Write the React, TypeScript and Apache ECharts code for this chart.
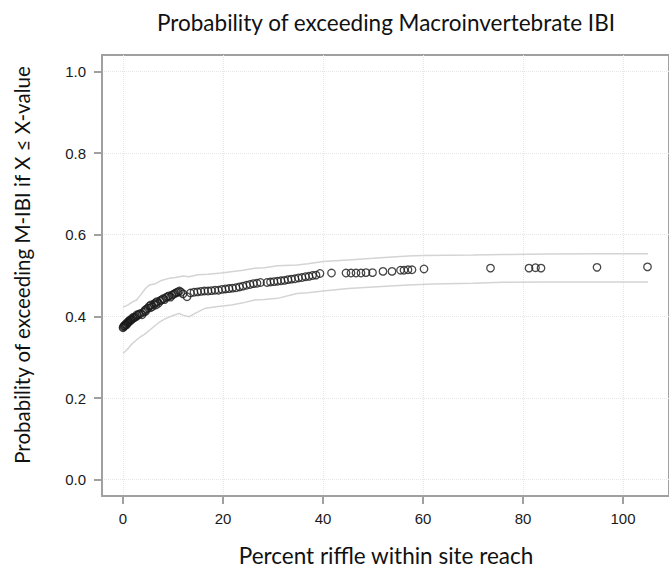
import React, { useEffect, useRef } from "react";
import * as echarts from "echarts";

const titleText = "Probability of exceeding Macroinvertebrate IBI";
const xAxisTitle = "Percent riffle within site reach";
const yAxisTitle = "Probability of exceeding M-IBI if X \u2264 X-value";

const xTicks = [0, 20, 40, 60, 80, 100];
const yTicks = [0, 0.2, 0.4, 0.6, 0.8, 1.0];

// observed points: percent riffle (x) and probability (y)
const pointX = [
  0.0, 0.1, 0.2, 0.3, 0.4, 0.5, 0.6, 0.7, 0.8, 0.9, 1.0, 1.1, 1.2, 1.4, 1.5, 1.6, 1.8, 2.0, 2.1, 2.3, 2.6, 2.8, 2.9, 3.2, 3.5, 3.8,
  4.1, 4.4, 4.5, 4.7, 5.0, 5.3, 5.5, 5.6, 5.9, 6.2, 6.5, 6.6, 6.8, 7.1, 7.4, 7.7, 8.0, 8.3, 8.6, 8.9, 9.2, 9.5, 9.8,
  10.1, 10.4, 10.7, 11.0, 11.3, 11.6, 12.0, 12.8, 13.5, 14.2, 14.9, 15.6, 16.3, 17.0, 17.7, 18.4, 19.1, 19.8,
  20.5, 21.2, 21.9, 22.6, 23.3, 24.0, 24.7, 25.4, 26.1, 26.8, 27.5, 28.8, 29.5, 30.2, 30.9, 31.6, 32.3, 33.0,
  33.7, 34.4, 35.1, 35.8, 36.5, 37.2, 37.9, 38.6, 39.4, 41.7, 44.6, 45.6, 46.6, 47.6, 48.6, 49.9,
  52.0, 53.8, 55.5, 56.2, 57.0, 57.8, 60.2, 73.5, 81.2, 82.5, 83.6, 94.8, 104.9,
];
const pointY = [
  0.372, 0.374, 0.376, 0.377, 0.378, 0.380, 0.381, 0.379, 0.383, 0.384, 0.385, 0.388, 0.387, 0.389, 0.392, 0.391, 0.393, 0.395, 0.398, 0.397, 0.399, 0.404, 0.402, 0.405, 0.407, 0.404,
  0.410, 0.415, 0.412, 0.418, 0.420, 0.425, 0.421, 0.428, 0.424, 0.430, 0.433, 0.428, 0.436, 0.432, 0.438, 0.440, 0.443, 0.441, 0.446, 0.448, 0.450, 0.447, 0.452,
  0.454, 0.456, 0.458, 0.460, 0.462, 0.459, 0.455, 0.448, 0.457, 0.459, 0.460, 0.461, 0.462, 0.462, 0.463, 0.464, 0.464, 0.466,
  0.467, 0.468, 0.469, 0.470, 0.472, 0.474, 0.476, 0.478, 0.480, 0.481, 0.483, 0.483, 0.484, 0.485, 0.486, 0.487, 0.488, 0.490,
  0.491, 0.492, 0.494, 0.495, 0.497, 0.498, 0.500, 0.501, 0.505, 0.506, 0.506, 0.506, 0.506, 0.506, 0.507, 0.507,
  0.510, 0.510, 0.513, 0.513, 0.514, 0.514, 0.516, 0.518, 0.518, 0.519, 0.518, 0.520, 0.521,
];

// upper and lower confidence bands
const upperX = [0, 1, 2, 2.7, 3.5, 4.5, 5.3, 6.5, 7.5, 9.2, 10.5, 12, 13.2, 15, 17, 19.7, 22, 24, 26.3, 28.3, 30.9, 34.8, 37, 40, 45, 50, 57, 60, 70, 76, 85, 95, 105];
const upperY = [0.422, 0.428, 0.436, 0.440, 0.452, 0.468, 0.477, 0.480, 0.487, 0.493, 0.495, 0.499, 0.497, 0.502, 0.503, 0.506, 0.510, 0.513, 0.518, 0.519, 0.524, 0.526, 0.529, 0.534, 0.538, 0.542, 0.548, 0.549, 0.550, 0.5515, 0.5525, 0.553, 0.553];
const lowerX = [0, 0.8, 1.6, 2.7, 3.5, 4.3, 5.3, 6.2, 7.2, 8.6, 10, 11.2, 12, 13.2, 14.5, 16.5, 19, 21.7, 24, 26.3, 28.3, 30.9, 34.8, 37, 40, 45, 50, 57, 62, 70, 76, 85, 95, 105];
const lowerY = [0.309, 0.318, 0.330, 0.342, 0.350, 0.356, 0.366, 0.375, 0.385, 0.395, 0.402, 0.407, 0.403, 0.399, 0.408, 0.420, 0.424, 0.428, 0.433, 0.440, 0.441, 0.444, 0.456, 0.458, 0.462, 0.468, 0.472, 0.477, 0.479, 0.481, 0.4836, 0.484, 0.484, 0.484];

const zip = (a: number[], b: number[]) => a.map((v, i) => [v, b[i]]);

export default function App() {
  const ref = useRef<HTMLDivElement>(null);
  useEffect(() => {
    if (!ref.current) return;
    const chart = echarts.init(ref.current, undefined, { renderer: "svg" });
    const axisColor = "#a0a0a0";
    const tickFont = "'Liberation Sans', Arial, Helvetica, sans-serif";
    const titleFont = "22.5px Lato, sans-serif";
    const yTitleFont = "20.5px Lato, sans-serif";
    chart.setOption({
      animation: false,
      backgroundColor: "#ffffff",
      grid: {
        left: 102,
        top: 55,
        width: 577,
        height: 441,
        show: true,
        borderColor: axisColor,
        borderWidth: 2,
        backgroundColor: "transparent",
      },
      xAxis: {
        type: "value",
        min: -4.2,
        max: 109.2,
        axisLine: { show: true, onZero: false, lineStyle: { color: axisColor, width: 2 } },
        axisTick: { show: true, length: 8, customValues: xTicks, lineStyle: { color: axisColor, width: 2 } },
        axisLabel: {
          customValues: xTicks,
          margin: 15,
          color: "#1a1a1a",
          fontSize: 15,
          fontFamily: tickFont,
        },
        splitLine: { show: true, lineStyle: { color: "#e6e6e6", type: "dotted", width: 1 } },
      },
      yAxis: {
        type: "value",
        min: -0.04,
        max: 1.04,
        axisLine: { show: true, onZero: false, lineStyle: { color: axisColor, width: 2 } },
        axisTick: { show: true, length: 8, customValues: yTicks, lineStyle: { color: axisColor, width: 2 } },
        axisLabel: {
          customValues: yTicks,
          margin: 16,
          color: "#1a1a1a",
          fontSize: 15,
          fontFamily: tickFont,
          formatter: (v: number) => v.toFixed(1),
        },
        splitLine: { show: true, lineStyle: { color: "#e6e6e6", type: "dotted", width: 1 } },
      },
      graphic: [
        {
          type: "text",
          x: 386,
          y: 22,
          style: {
            text: titleText,
            textAlign: "center",
            textVerticalAlign: "middle",
            font: titleFont,
            fill: "#111",
          },
        },
        {
          type: "text",
          x: 386,
          y: 555,
          style: {
            text: xAxisTitle,
            textAlign: "center",
            textVerticalAlign: "middle",
            font: titleFont,
            fill: "#111",
          },
        },
        {
          type: "text",
          x: 22,
          y: 265,
          rotation: Math.PI / 2,
          style: {
            text: yAxisTitle,
            textAlign: "center",
            textVerticalAlign: "middle",
            font: yTitleFont,
            fill: "#111",
          },
        },
      ],
      series: [
        {
          type: "line",
          data: zip(upperX, upperY),
          showSymbol: false,
          lineStyle: { color: "#d4d4d4", width: 1.5 },
          z: 1,
        },
        {
          type: "line",
          data: zip(lowerX, lowerY),
          showSymbol: false,
          lineStyle: { color: "#d4d4d4", width: 1.5 },
          z: 1,
        },
        {
          type: "scatter",
          data: zip(pointX, pointY),
          symbol: "circle",
          symbolSize: 7.5,
          itemStyle: { color: "rgba(0,0,0,0)", borderColor: "#1a1a1a", borderWidth: 1.3 },
          z: 3,
        },
      ],
    });
    return () => chart.dispose();
  }, []);
  return (
    <div
      ref={ref}
      style={{ position: "absolute", left: 0, top: 0, width: 669, height: 572 }}
    />
  );
}
